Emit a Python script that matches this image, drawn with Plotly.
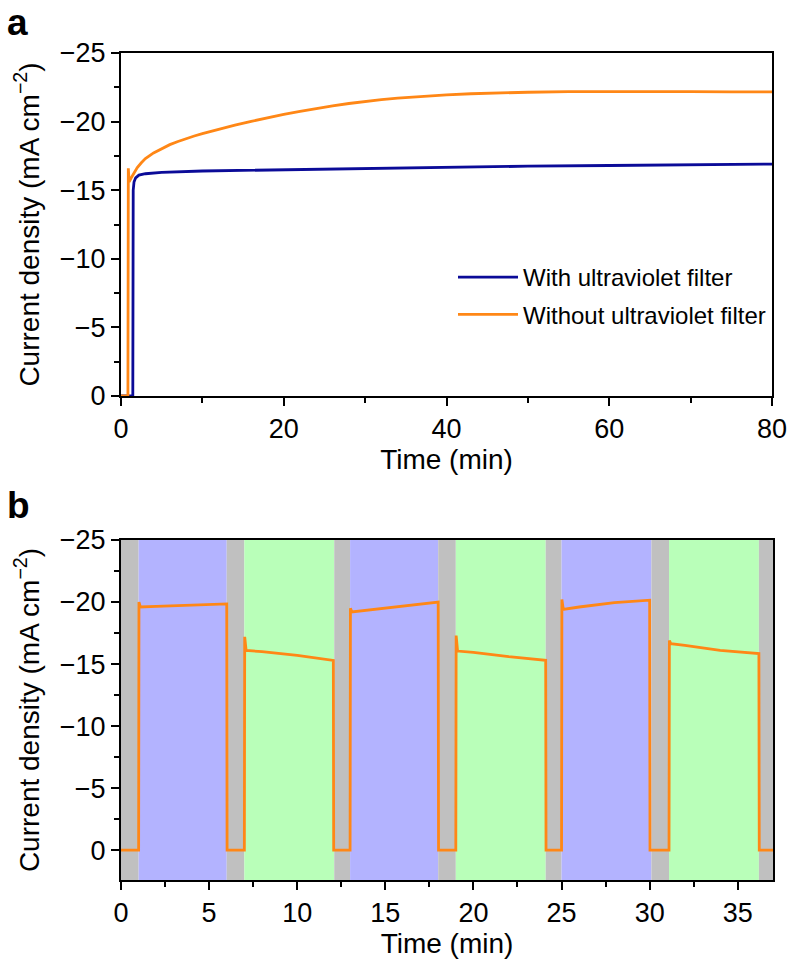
import plotly.graph_objects as go

# ---------------- Panel a data ----------------
a_time_with = [0, 1.45, 1.5, 1.6, 1.8, 2.2, 3, 5, 10, 20, 30, 40, 50, 60, 70, 80]
a_cur_with = [0, 0, -15.0, -15.6, -15.9, -16.1, -16.2, -16.3, -16.4, -16.5, -16.6, -16.7,
              -16.75, -16.8, -16.85, -16.9]

a_time_without = [0, 0.85, 0.9, 1.0, 1.3, 1.6, 2.0, 2.5, 3, 4, 5, 6, 7, 8, 9, 10, 12, 14, 16,
                  18, 20, 22, 24, 26, 28, 30, 32, 34, 36, 38, 40, 43, 46, 50, 55, 60, 65, 70,
                  75, 80]
a_cur_without = [0, 0, -16.6, -15.6, -15.95, -16.3, -16.65, -17.0, -17.3, -17.72, -18.05,
                 -18.32, -18.55, -18.76, -18.95, -19.12, -19.44, -19.74, -20.02, -20.28, -20.52,
                 -20.74, -20.96, -21.15, -21.32, -21.47, -21.6, -21.71, -21.8, -21.88, -21.95,
                 -22.03, -22.09, -22.14, -22.18, -22.2, -22.2, -22.19, -22.17, -22.16]

# ---------------- Panel b data ----------------
b_time = [0, 1.0, 1.02, 1.1, 2, 4, 6.0, 6.02, 7.0, 7.02, 7.1, 8, 10, 12.05, 12.07,
          13.0, 13.02, 13.1, 14, 16, 18.0, 18.02, 19.0, 19.02, 19.1, 20, 22, 24.1, 24.12,
          25.0, 25.02, 25.1, 26, 28, 30.0, 30.02, 31.1, 31.12, 31.2, 32, 34, 36.2, 36.22, 37]
b_cur = [0, 0, -20.0, -19.6, -19.65, -19.75, -19.85, 0, 0, -17.2, -16.1, -16.0, -15.7, -15.3, 0,
         0, -19.5, -19.2, -19.35, -19.7, -20.0, 0, 0, -17.3, -16.05, -15.95, -15.6, -15.3, 0,
         0, -20.2, -19.4, -19.6, -19.95, -20.15, 0, 0, -16.9, -16.65, -16.5, -16.1, -15.85, 0, 0]

# illumination periods (dark / UV / visible)
shade_start = [0, 1, 6, 7, 12.1, 13, 18, 19, 24.1, 25, 30.1, 31.1, 36.2]
shade_end = [1, 6, 7, 12.1, 13, 18, 19, 24.1, 25, 30.1, 31.1, 36.2, 37]
shade_kind = ["dark", "uv", "dark", "vis", "dark", "uv", "dark", "vis", "dark", "uv", "dark",
              "vis", "dark"]

a_xticks = [0, 20, 40, 60, 80]
b_xticks = [0, 5, 10, 15, 20, 25, 30, 35]
y_ticks = [-25, -20, -15, -10, -5, 0]
y_ticktext = ["\u221225", "\u221220", "\u221215", "\u221210", "\u22125", "0"]

ORANGE = "#FF8716"
NAVY = "#0B0B98"
shade_colors = {"dark": "#C0C0C0", "uv": "#B3B3FF", "vis": "#B9FFB9"}

FONT = "Liberation Sans, Arial, Helvetica, sans-serif"
FS = 27
FT = 28
W, H = 788, 966

fig = go.Figure()
fig.add_trace(go.Scatter(x=a_time_with, y=a_cur_with, mode="lines",
                         line=dict(color=NAVY, width=2.8),
                         name="With ultraviolet filter", xaxis="x", yaxis="y",
                         legendgroup="g1"))
fig.add_trace(go.Scatter(x=a_time_without, y=a_cur_without, mode="lines",
                         line=dict(color=ORANGE, width=2.8),
                         name="Without ultraviolet filter", xaxis="x", yaxis="y",
                         legendgroup="g2"))
fig.add_trace(go.Scatter(x=b_time, y=b_cur, mode="lines",
                         line=dict(color=ORANGE, width=2.8),
                         showlegend=False, xaxis="x2", yaxis="y2"))

for s, e, k in zip(shade_start, shade_end, shade_kind):
    fig.add_shape(type="rect", xref="x2", yref="y2 domain", x0=s, x1=e, y0=0, y1=1,
                  fillcolor=shade_colors[k], line=dict(width=0), layer="below")


def px_x(p):
    return p / W


def px_y(p):
    return 1 - p / H


axis_common = dict(showline=True, linecolor="black", linewidth=2, mirror=True,
                   ticks="outside", ticklen=8, tickwidth=2, tickcolor="black",
                   showgrid=False, zeroline=False, automargin=False,
                   tickfont=dict(family=FONT, size=FS, color="black"),
                   title_font=dict(family=FONT, size=FT, color="black"))

minor_common = dict(ticks="outside", ticklen=5, tickwidth=2, tickcolor="black", showgrid=False)

fig.update_layout(
    width=W, height=H,
    margin=dict(l=0, r=0, t=0, b=0),
    paper_bgcolor="white", plot_bgcolor="white",
    font=dict(family=FONT, size=FS, color="black"),
    xaxis=dict(domain=[px_x(121), px_x(772)], range=[0, 80], anchor="y",
               tickvals=a_xticks, minor=dict(dtick=10, tick0=0, **minor_common),
               title=dict(text="Time (min)", standoff=4), **axis_common),
    yaxis=dict(domain=[px_y(396), px_y(53)], range=[0, -25], anchor="x",
               tickvals=y_ticks, ticktext=y_ticktext,
               minor=dict(dtick=2.5, tick0=0, **minor_common),
               title=dict(text="Current density (mA cm<sup>\u22122</sup>)", standoff=12),
               **axis_common),
    xaxis2=dict(domain=[px_x(121), px_x(773)], range=[0, 37], anchor="y2",
                tickvals=b_xticks, minor=dict(dtick=2.5, tick0=0, **minor_common),
                title=dict(text="Time (min)", standoff=4), **axis_common),
    yaxis2=dict(domain=[px_y(880), px_y(540)], range=[2.4, -25], anchor="x2",
                tickvals=y_ticks, ticktext=y_ticktext,
                minor=dict(dtick=2.5, tick0=0, **minor_common),
                title=dict(text="Current density (mA cm<sup>\u22122</sup>)", standoff=12),
                **axis_common),
    showlegend=True,
    legend=dict(x=px_x(453), y=px_y(255), xanchor="left", yanchor="top",
                bgcolor="rgba(0,0,0,0)", font=dict(family=FONT, size=24, color="black"),
                itemwidth=60, tracegroupgap=3, traceorder="grouped"),
)

fig.add_annotation(text="<b>a</b>", xref="paper", yref="paper", x=px_x(5), y=px_y(22),
                   xanchor="left", yanchor="middle", showarrow=False,
                   font=dict(family=FONT, size=37, color="black"))
fig.add_annotation(text="<b>b</b>", xref="paper", yref="paper", x=px_x(5), y=px_y(505),
                   xanchor="left", yanchor="middle", showarrow=False,
                   font=dict(family=FONT, size=37, color="black"))

fig.write_html(
    "out.html",
    config={"displayModeBar": False},
    post_script=(
        "var gd=document.getElementById('{plot_id}');"
        "gd.style.position='fixed';gd.style.top='0';gd.style.left='0';"
        "document.body.style.margin='0';document.body.style.overflow='hidden';"
        "document.documentElement.style.overflow='hidden';"
    ),
)
